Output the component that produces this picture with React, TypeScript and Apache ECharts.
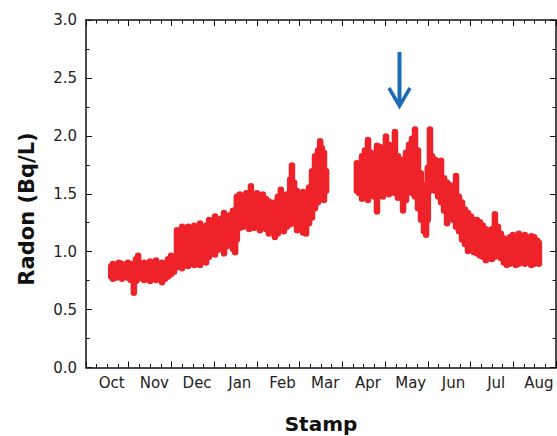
import React, { useEffect, useRef } from "react";
import * as echarts from "echarts";

// x axis is in "month units": 0 = left edge of plot, 1 unit per month
const monthLabels = ["Oct", "Nov", "Dec", "Jan", "Feb", "Mar", "Apr", "May", "Jun", "Jul", "Aug"];
const monthLabelPos = [0.6, 1.6, 2.6, 3.6, 4.6, 5.6, 6.6, 7.6, 8.6, 9.6, 10.6];
const yTickValues = [0, 0.5, 1.0, 1.5, 2.0, 2.5, 3.0];

// Radon readings drawn as a dense band: per time step the lowest and highest reading
const bandX = [
  0.59, 0.63, 0.70, 0.77, 0.84, 0.91, 0.98, 1.05, 1.12, 1.17, 1.22, 1.29, 1.36, 1.43, 1.50,
  1.57, 1.64, 1.71, 1.78, 1.85, 1.92, 1.99, 2.06, 2.13, 2.18, 2.25, 2.32, 2.39, 2.46, 2.53,
  2.60, 2.67, 2.74, 2.81, 2.88, 2.95, 3.02, 3.09, 3.16, 3.23, 3.30, 3.37, 3.44, 3.49, 3.53,
  3.60, 3.68, 3.75, 3.82, 3.86, 3.93, 4.00, 4.07, 4.14, 4.21, 4.28, 4.35, 4.42, 4.49, 4.56,
  4.63, 4.70, 4.78, 4.82, 4.87, 4.94, 5.01, 5.08, 5.15, 5.22, 5.29, 5.36, 5.43, 5.48, 5.52,
  5.57, 5.62,
  6.34, 6.39, 6.46, 6.53, 6.60, 6.67, 6.74, 6.81, 6.88, 6.95, 7.02, 7.09, 7.16, 7.23, 7.30,
  7.35, 7.42, 7.49, 7.56, 7.63, 7.70, 7.77, 7.84, 7.91, 7.96, 8.00, 8.05, 8.10, 8.17, 8.24,
  8.31, 8.38, 8.45, 8.52, 8.59, 8.66, 8.73, 8.80, 8.87, 8.94, 9.01, 9.08, 9.15, 9.22, 9.29,
  9.36, 9.43, 9.50, 9.57, 9.64, 9.71, 9.78, 9.85, 9.92, 9.99, 10.06, 10.13, 10.20, 10.27,
  10.35, 10.42, 10.49, 10.56, 10.60,
];
const bandLow = [
  0.76, 0.74, 0.75, 0.76, 0.74, 0.76, 0.75, 0.73, 0.62, 0.72, 0.74, 0.76, 0.73, 0.75, 0.72,
  0.74, 0.73, 0.76, 0.71, 0.74, 0.76, 0.78, 0.80, 0.84, 0.85, 0.83, 0.86, 0.85, 0.88, 0.86,
  0.87, 0.86, 0.90, 0.88, 0.93, 0.97, 0.95, 0.99, 1.00, 0.96, 1.02, 1.04, 1.00, 0.97, 1.08,
  1.18, 1.19, 1.20, 1.17, 1.20, 1.18, 1.21, 1.16, 1.19, 1.17, 1.13, 1.16, 1.10, 1.13, 1.17,
  1.15, 1.19, 1.21, 1.25, 1.22, 1.16, 1.19, 1.14, 1.13, 1.22, 1.27, 1.35, 1.40, 1.43, 1.46,
  1.42, 1.50,
  1.50, 1.48, 1.43, 1.52, 1.42, 1.50, 1.45, 1.32, 1.48, 1.45, 1.50, 1.47, 1.52, 1.48, 1.44,
  1.47, 1.33, 1.42, 1.50, 1.48, 1.45, 1.35, 1.25, 1.15, 1.12, 1.25, 1.50, 1.52, 1.50, 1.45,
  1.40, 1.33, 1.22, 1.28, 1.25, 1.19, 1.15, 1.08, 1.04, 0.98, 1.00, 0.97, 0.96, 0.94, 0.93,
  0.90, 0.92, 0.91, 0.93, 0.94, 0.92, 0.88, 0.86, 0.87, 0.88, 0.86, 0.87, 0.89, 0.87,
  0.88, 0.86, 0.87, 0.88, 0.87,
];
const bandHigh = [
  0.90, 0.92, 0.91, 0.93, 0.92, 0.90, 0.93, 0.92, 0.88, 0.96, 0.99, 0.92, 0.93, 0.91, 0.94,
  0.92, 0.95, 0.90, 0.93, 0.92, 0.96, 0.99, 0.98, 1.21, 1.18, 1.24, 1.20, 1.24, 1.21, 1.25,
  1.22, 1.27, 1.23, 1.25, 1.30, 1.27, 1.33, 1.28, 1.31, 1.36, 1.30, 1.34, 1.38, 1.36, 1.50,
  1.52, 1.48, 1.53, 1.52, 1.59, 1.50, 1.53, 1.50, 1.52, 1.48, 1.46, 1.41, 1.45, 1.50, 1.56,
  1.47, 1.52, 1.65, 1.77, 1.62, 1.55, 1.52, 1.54, 1.50, 1.58, 1.72, 1.85, 1.90, 1.98, 1.92,
  1.88, 1.72,
  1.79, 1.72, 1.85, 1.90, 1.99, 1.88, 1.84, 1.94, 1.93, 1.86, 2.02, 1.95, 1.90, 2.06, 1.85,
  1.79, 1.82, 1.88, 1.95, 2.00, 2.08, 1.90, 1.70, 1.60, 1.55, 1.75, 2.08, 1.85, 1.82, 1.80,
  1.81, 1.66, 1.62, 1.60, 1.58, 1.68, 1.50, 1.45, 1.39, 1.36, 1.33, 1.30, 1.30, 1.28, 1.25,
  1.22, 1.20, 1.22, 1.35, 1.24, 1.18, 1.14, 1.12, 1.15, 1.17, 1.13, 1.18, 1.15, 1.17,
  1.14, 1.16, 1.15, 1.12, 1.10,
];

const RED = "#ee2329";
const BLUE = "#1c6cb4";
const AXIS = "#111";

export default function App() {
  const ref = useRef<HTMLDivElement>(null);

  useEffect(() => {
    if (!ref.current) return;
    const chart = echarts.init(ref.current, null, { renderer: "svg" });

    const bandData = bandX.map((x, i) => [x, bandLow[i], bandHigh[i]]);

    const xCommon = {
      type: "value" as const,
      min: 0,
      max: 11,
      interval: 1,
      splitLine: { show: false },
      axisLine: { show: true, onZero: false, lineStyle: { color: AXIS, width: 1.5 } },
      axisTick: { show: true, inside: true, length: 6, lineStyle: { color: AXIS, width: 1 } },
      minorTick: { show: true, splitNumber: 4, length: 3.5, lineStyle: { color: AXIS, width: 1 } },
      minorSplitLine: { show: false },
    };
    const yCommon = {
      type: "value" as const,
      min: 0,
      max: 3,
      interval: 0.5,
      splitLine: { show: false },
      axisLine: { show: true, onZero: false, lineStyle: { color: AXIS, width: 1.5 } },
      axisTick: { show: true, inside: true, length: 6, lineStyle: { color: AXIS, width: 1 } },
      minorTick: { show: true, splitNumber: 2, length: 3.5, lineStyle: { color: AXIS, width: 1 } },
      minorSplitLine: { show: false },
    };

    chart.setOption({
      animation: false,
      backgroundColor: "#ffffff",
      textStyle: { fontFamily: "DejaVu Sans" },
      grid: {
        left: 86,
        top: 20,
        width: 470,
        height: 347.5,
        containLabel: false,
        outerBoundsMode: "none",
      },
      xAxis: [
        {
          ...xCommon,
          position: "bottom",
          name: "Stamp",
          nameLocation: "middle",
          nameGap: 46,
          nameTextStyle: { fontSize: 20, fontWeight: "bold", color: "#111", fontFamily: "DejaVu Sans" },
          axisLabel: {
            show: true,
            customValues: monthLabelPos,
            fontSize: 15,
            color: "#222",
            margin: 8,
            fontFamily: "DejaVu Sans",
            formatter: (v: number) => {
              const i = monthLabelPos.findIndex((p) => Math.abs(p - v) < 1e-6);
              return i >= 0 ? monthLabels[i] : "";
            },
          },
        },
        {
          ...xCommon,
          position: "top",
          axisLabel: { show: false },
        },
      ],
      yAxis: [
        {
          ...yCommon,
          position: "left",
          axisLabel: {
            show: true,
            customValues: yTickValues,
            fontSize: 15,
            color: "#222",
            margin: 9,
            fontFamily: "DejaVu Sans",
            formatter: (v: number) => v.toFixed(1),
          },
        },
        {
          ...yCommon,
          position: "right",
          axisLabel: { show: false },
        },
      ],
      graphic: [
        {
          type: "text",
          x: 27,
          y: 209,
          rotation: Math.PI / 2,
          style: {
            text: "Radon (Bq/L)",
            fontSize: 21,
            fontWeight: "bold",
            fill: "#111",
            fontFamily: "DejaVu Sans",
            align: "center",
            verticalAlign: "middle",
          },
        },
        {
          type: "line",
          shape: { x1: 399.5, y1: 52, x2: 399.5, y2: 104 },
          style: { stroke: BLUE, lineWidth: 4 },
        },
        {
          type: "polyline",
          shape: { points: [[389, 88], [399.5, 106], [410, 88]] },
          style: { stroke: BLUE, lineWidth: 3.5, fill: "none", lineJoin: "miter" },
        },
      ],
      series: [
        {
          type: "custom",
          xAxisIndex: 0,
          yAxisIndex: 0,
          encode: { x: 0, y: [1, 2] },
          data: bandData,
          renderItem: (_params: any, api: any) => {
            const x = api.value(0);
            const p1 = api.coord([x, api.value(1)]);
            const p2 = api.coord([x, api.value(2)]);
            return {
              type: "line",
              shape: { x1: p1[0], y1: p1[1] - 3, x2: p2[0], y2: p2[1] + 3 },
              style: { stroke: RED, lineWidth: 6.5, lineCap: "round" },
            };
          },
        },
      ],
    });

    return () => chart.dispose();
  }, []);

  return (
    <div
      ref={ref}
      style={{ position: "absolute", left: 0, top: 0, width: 557, height: 436, background: "#fff" }}
    />
  );
}
